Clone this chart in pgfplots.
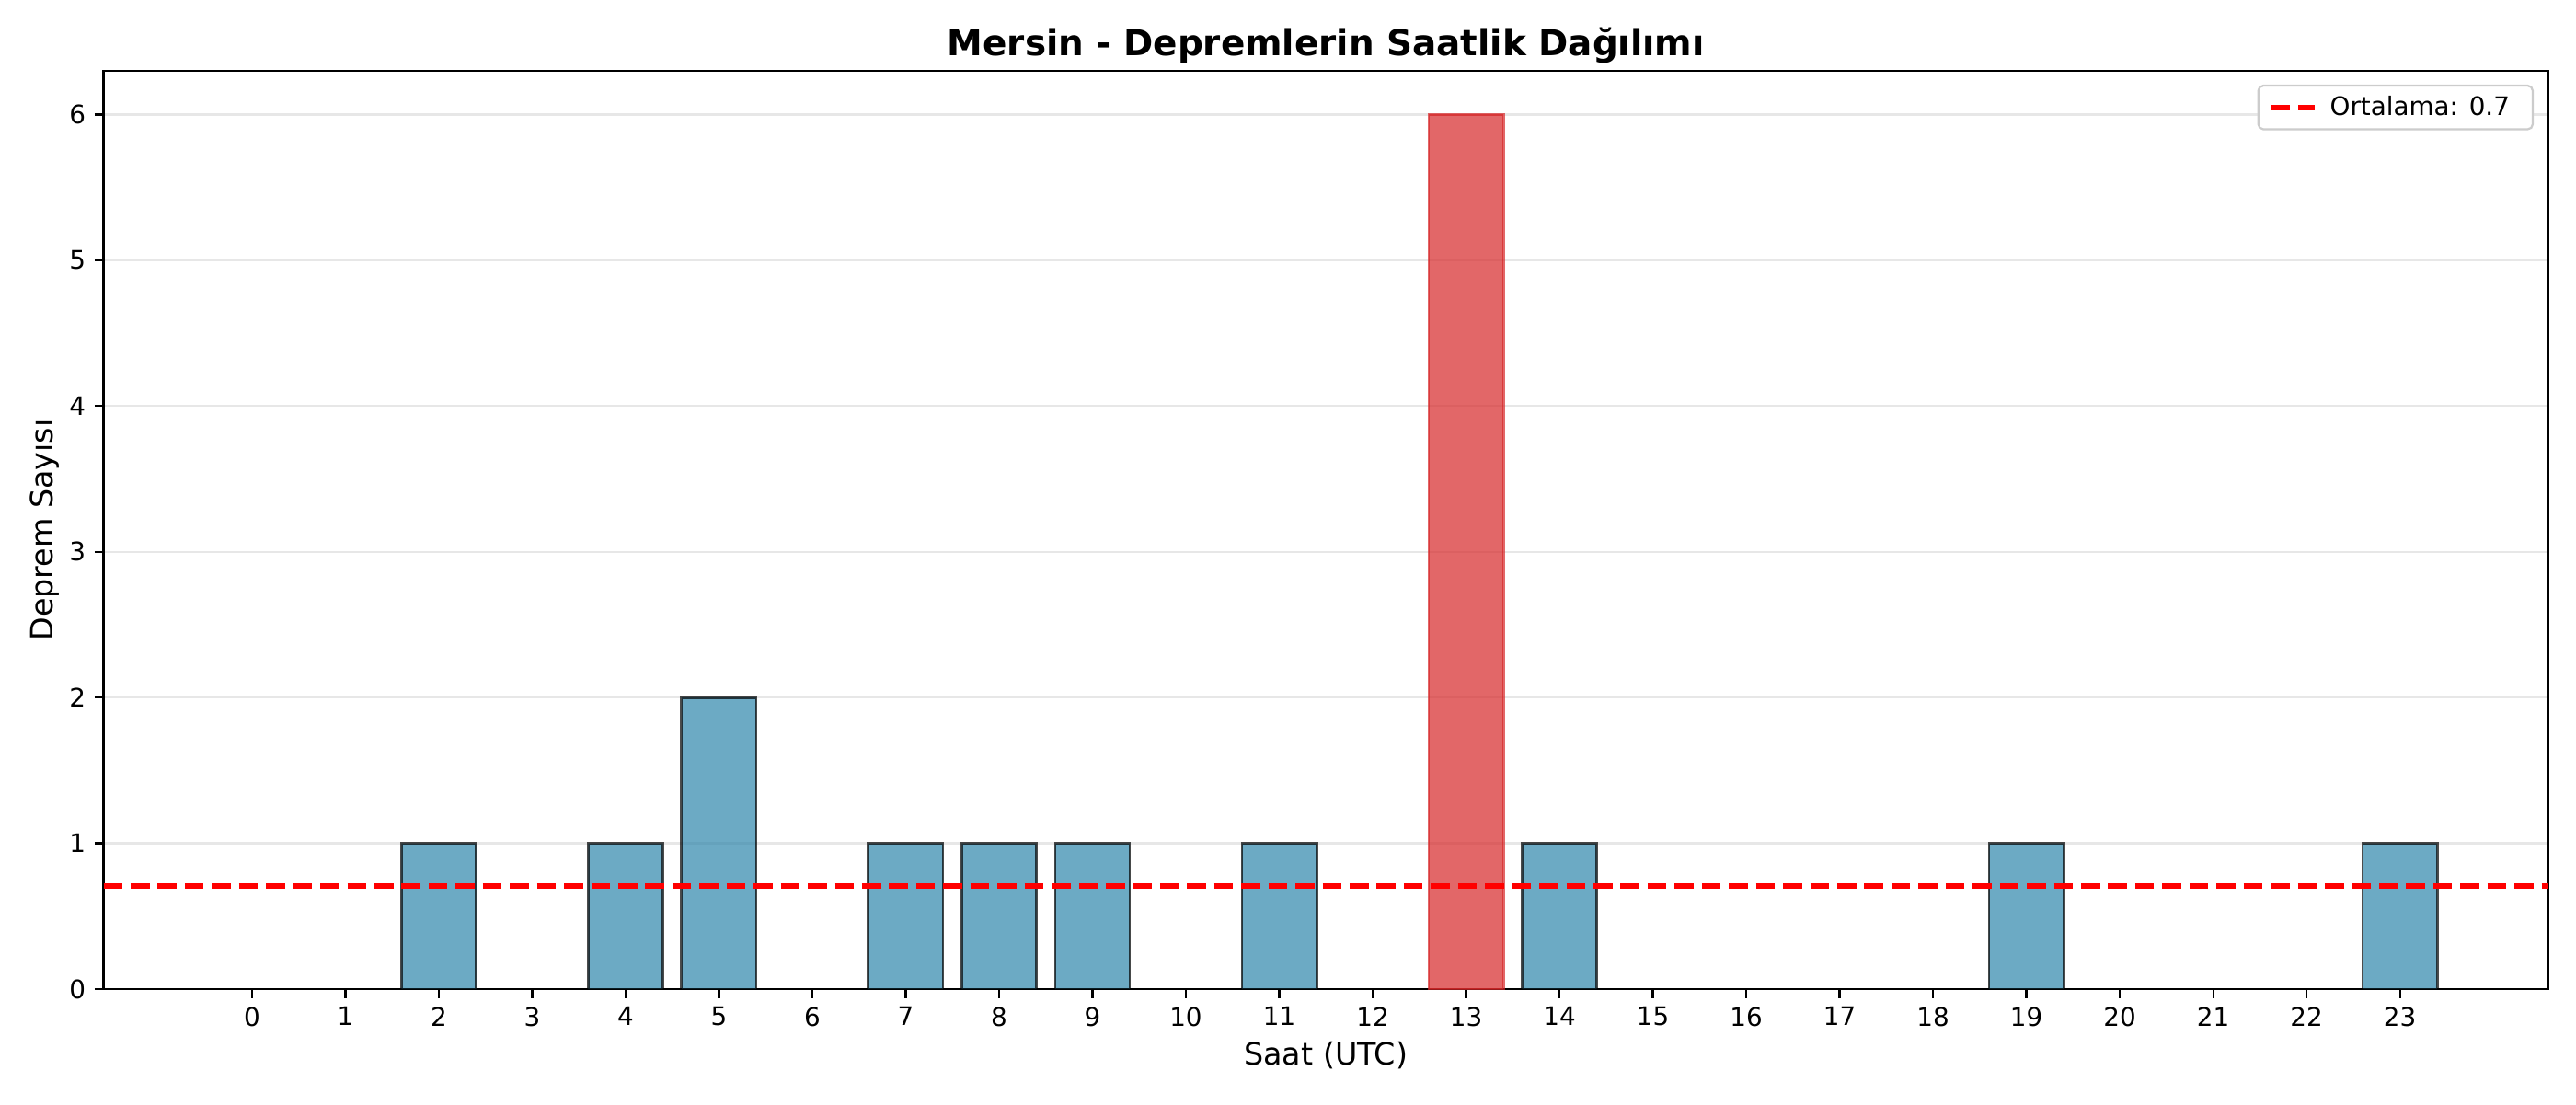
\documentclass[border=0pt]{standalone}
\usepackage{pgfplots}
\pgfplotsset{compat=1.18}
\usepackage{fontspec}
\setmainfont{DejaVu Sans}

\definecolor{barblue}{RGB}{46,134,171}
\definecolor{barred}{RGB}{214,39,40}
\definecolor{gridgray}{RGB}{176,176,176}
\definecolor{legendedge}{RGB}{204,204,204}

\begin{document}
\begin{tikzpicture}
\path[use as bounding box] (0,0) rectangle (1008pt,432pt);
\begin{axis}[
at={(40.5pt,45pt)}, anchor=south west,
scale only axis,
width=956.7pt, height=359.3pt,
xmin=-1.59, xmax=24.59,
ymin=0, ymax=6.3,
xtick={0,1,...,23},
ytick={0,1,2,3,4,5,6},
tick align=outside,
tick pos=left,
major tick length=3.5pt,
tick style={line width=0.8pt, black},
axis line style={line width=0.8pt},
ymajorgrids,
y grid style={gridgray, opacity=0.3, line width=0.8pt},
/pgf/number format/assume math mode=true,
ticklabel style={font=\fontsize{10}{12}\selectfont},
xlabel={Saat (UTC)},
ylabel={Deprem Sayısı},
xlabel style={font=\fontsize{12}{14}\selectfont, yshift=1pt},
ylabel style={font=\fontsize{12}{14}\selectfont, yshift=-3pt},
title={\bfseries Mersin - Depremlerin Saatlik Dağılımı},
title style={font=\fontsize{14}{17}\selectfont, yshift=-6.5pt},
legend style={at={(0.994,0.985)}, anchor=north east, draw=legendedge,
  rounded corners=2pt, font=\fontsize{10}{12}\selectfont,
  inner xsep=4pt, inner ysep=2pt, line width=0.8pt,
  nodes={inner xsep=5pt}},
legend cell align=left,
]
\addplot[ybar, bar width=0.8, bar shift=0pt, fill=barblue, fill opacity=0.7,
  draw=black, draw opacity=0.7, line width=1pt, forget plot]
coordinates {
(2,1) (4,1) (5,2) (7,1) (8,1) (9,1) (11,1) (14,1) (19,1) (23,1)
};
\addplot[ybar, bar width=0.8, bar shift=0pt, fill=barred, fill opacity=0.7,
  draw=barred, draw opacity=0.7, line width=1pt, forget plot]
coordinates {
(13,6)
};
\addplot[red, line width=2pt, dash pattern=on 7.4pt off 3.2pt, no marks]
coordinates {
(-1.59,0.7083) (24.59,0.7083)
};
\addlegendentry{Ortalama: 0.7}
\end{axis}
\end{tikzpicture}
\end{document}
